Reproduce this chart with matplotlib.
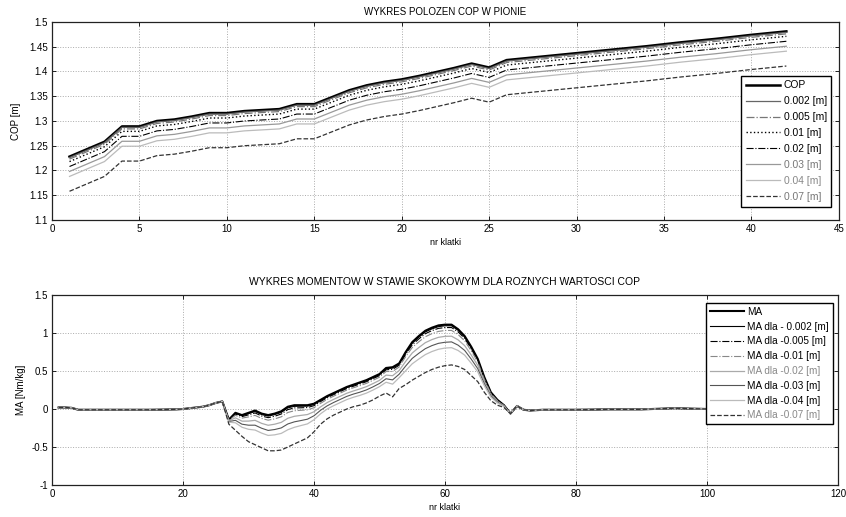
import matplotlib
matplotlib.use("Agg")
import matplotlib.pyplot as plt

plt.rcParams["font.family"] = ["Liberation Sans", "DejaVu Sans"]

# ----------------------------
# TOP: COP position per frame
# ----------------------------
cop_frames = [1, 2, 3, 4, 5, 6, 7, 8, 9, 10, 11, 12, 13, 14, 15, 16, 17,
              18, 19, 20, 21, 22, 23, 24, 25, 26, 28, 30, 32, 34, 36, 38, 40, 42]

cop = [1.228, 1.243, 1.258, 1.289, 1.289, 1.300, 1.303, 1.309, 1.316, 1.316, 1.320, 1.322,
       1.324, 1.334, 1.334, 1.348, 1.362, 1.372, 1.379, 1.384, 1.391, 1.399, 1.407, 1.416,
       1.408, 1.423, 1.430, 1.437, 1.444, 1.451, 1.459, 1.466, 1.474, 1.481]
cop_002 = [1.226, 1.241, 1.256, 1.287, 1.287, 1.298, 1.301, 1.307, 1.314, 1.314, 1.318, 1.320,
           1.322, 1.332, 1.332, 1.346, 1.360, 1.370, 1.377, 1.382, 1.389, 1.397, 1.405, 1.414,
           1.406, 1.421, 1.428, 1.435, 1.442, 1.449, 1.457, 1.464, 1.472, 1.479]
cop_005 = [1.223, 1.238, 1.253, 1.284, 1.284, 1.295, 1.298, 1.304, 1.311, 1.311, 1.315, 1.317,
           1.319, 1.329, 1.329, 1.343, 1.357, 1.367, 1.374, 1.379, 1.386, 1.394, 1.402, 1.411,
           1.403, 1.418, 1.425, 1.432, 1.439, 1.446, 1.454, 1.461, 1.469, 1.476]
cop_01 = [1.218, 1.233, 1.248, 1.279, 1.279, 1.290, 1.293, 1.299, 1.306, 1.306, 1.310, 1.312,
          1.314, 1.324, 1.324, 1.338, 1.352, 1.362, 1.369, 1.374, 1.381, 1.389, 1.397, 1.406,
          1.398, 1.413, 1.420, 1.427, 1.434, 1.441, 1.449, 1.456, 1.464, 1.471]
cop_02 = [1.208, 1.223, 1.238, 1.269, 1.269, 1.280, 1.283, 1.289, 1.296, 1.296, 1.300, 1.302,
          1.304, 1.314, 1.314, 1.328, 1.342, 1.352, 1.359, 1.364, 1.371, 1.379, 1.387, 1.396,
          1.388, 1.403, 1.410, 1.417, 1.424, 1.431, 1.439, 1.446, 1.454, 1.461]
cop_03 = [1.198, 1.213, 1.228, 1.259, 1.259, 1.270, 1.273, 1.279, 1.286, 1.286, 1.290, 1.292,
          1.294, 1.304, 1.304, 1.318, 1.332, 1.342, 1.349, 1.354, 1.361, 1.369, 1.377, 1.386,
          1.378, 1.393, 1.400, 1.407, 1.414, 1.421, 1.429, 1.436, 1.444, 1.451]
cop_04 = [1.188, 1.203, 1.218, 1.249, 1.249, 1.260, 1.263, 1.269, 1.276, 1.276, 1.280, 1.282,
          1.284, 1.294, 1.294, 1.308, 1.322, 1.332, 1.339, 1.344, 1.351, 1.359, 1.367, 1.376,
          1.368, 1.383, 1.390, 1.397, 1.404, 1.411, 1.419, 1.426, 1.434, 1.441]
cop_07 = [1.158, 1.173, 1.188, 1.219, 1.219, 1.230, 1.233, 1.239, 1.246, 1.246, 1.250, 1.252,
          1.254, 1.264, 1.264, 1.278, 1.292, 1.302, 1.309, 1.314, 1.321, 1.329, 1.337, 1.346,
          1.338, 1.353, 1.360, 1.367, 1.374, 1.381, 1.389, 1.396, 1.404, 1.411]

cop_labels = ["COP", "0.002 [m]", "0.005 [m]", "0.01 [m]", "0.02 [m]",
              "0.03 [m]", "0.04 [m]", "0.07 [m]"]

# ----------------------------
# BOTTOM: moment MA per frame
# ----------------------------
lead_frames = [1, 2, 3, 4, 6, 10, 15, 19, 20, 21, 22, 23, 24, 25]
lead_ma = [0.02, 0.02, 0.015, -0.01, -0.01, -0.01, -0.01, -0.005, 0.0, 0.01, 0.02, 0.03, 0.05, 0.08]

active_frames = list(range(26, 73))

ma = [0.10, -0.14, -0.05, -0.08, -0.05, -0.02, -0.06, -0.08, -0.06, -0.03,
      0.03, 0.05, 0.05, 0.05, 0.07, 0.12, 0.17, 0.21, 0.25, 0.29,
      0.32, 0.35, 0.38, 0.42, 0.46, 0.54, 0.55, 0.60, 0.75, 0.88,
      0.96, 1.03, 1.07, 1.10, 1.11, 1.11, 1.05, 0.96, 0.82, 0.66,
      0.42, 0.22, 0.12, 0.05, -0.06, 0.04, -0.01]
ma_002 = [0.10, -0.142, -0.057, -0.088, -0.061, -0.033, -0.073, -0.093, -0.074, -0.045,
          0.015, 0.035, 0.037, 0.038, 0.059, 0.111, 0.161, 0.202, 0.242, 0.282,
          0.312, 0.341, 0.371, 0.411, 0.452, 0.531, 0.539, 0.591, 0.738, 0.866,
          0.945, 1.014, 1.054, 1.084, 1.095, 1.095, 1.036, 0.947, 0.809, 0.651,
          0.414, 0.217, 0.118, 0.049, -0.06, 0.04, -0.01]
ma_005 = [0.10, -0.144, -0.066, -0.100, -0.077, -0.052, -0.092, -0.114, -0.095, -0.066,
          -0.008, 0.014, 0.016, 0.019, 0.044, 0.097, 0.149, 0.189, 0.229, 0.269,
          0.299, 0.329, 0.359, 0.399, 0.439, 0.516, 0.522, 0.576, 0.719, 0.844,
          0.922, 0.991, 1.031, 1.061, 1.071, 1.072, 1.015, 0.929, 0.793, 0.639,
          0.406, 0.212, 0.115, 0.048, -0.06, 0.04, -0.01]
ma_01 = [0.10, -0.149, -0.083, -0.120, -0.104, -0.084, -0.124, -0.147, -0.130, -0.103,
         -0.046, -0.023, -0.017, -0.011, 0.017, 0.074, 0.127, 0.169, 0.209, 0.249,
         0.279, 0.307, 0.337, 0.377, 0.419, 0.493, 0.494, 0.553, 0.689, 0.809,
         0.884, 0.951, 0.991, 1.021, 1.033, 1.034, 0.980, 0.897, 0.766, 0.617,
         0.391, 0.204, 0.110, 0.046, -0.06, 0.04, -0.01]
ma_02 = [0.10, -0.157, -0.116, -0.160, -0.159, -0.149, -0.189, -0.214, -0.200, -0.176,
         -0.122, -0.096, -0.084, -0.073, -0.036, 0.028, 0.084, 0.127, 0.167, 0.207,
         0.237, 0.264, 0.294, 0.334, 0.377, 0.446, 0.438, 0.506, 0.627, 0.737,
         0.808, 0.873, 0.913, 0.943, 0.956, 0.958, 0.910, 0.834, 0.711, 0.574,
         0.363, 0.189, 0.100, 0.041, -0.06, 0.04, -0.01]
ma_03 = [0.10, -0.166, -0.149, -0.200, -0.213, -0.213, -0.253, -0.282, -0.270, -0.249,
         -0.197, -0.169, -0.152, -0.134, -0.089, -0.017, 0.041, 0.086, 0.126, 0.166,
         0.196, 0.221, 0.251, 0.291, 0.336, 0.398, 0.383, 0.458, 0.566, 0.666,
         0.733, 0.794, 0.834, 0.864, 0.878, 0.883, 0.840, 0.771, 0.657, 0.531,
         0.334, 0.173, 0.090, 0.037, -0.06, 0.04, -0.01]
ma_04 = [0.10, -0.174, -0.181, -0.240, -0.267, -0.277, -0.317, -0.348, -0.340, -0.321,
         -0.273, -0.241, -0.218, -0.196, -0.141, -0.063, -0.001, 0.044, 0.084, 0.124,
         0.154, 0.179, 0.209, 0.249, 0.294, 0.352, 0.327, 0.412, 0.504, 0.595,
         0.657, 0.716, 0.756, 0.786, 0.802, 0.807, 0.770, 0.709, 0.603, 0.489,
         0.306, 0.157, 0.080, 0.033, -0.06, 0.04, -0.01]
ma_07 = [0.10, -0.20, -0.28, -0.36, -0.43, -0.47, -0.51, -0.55, -0.55, -0.54,
         -0.50, -0.46, -0.42, -0.38, -0.30, -0.20, -0.13, -0.08, -0.04, 0.00,
         0.03, 0.05, 0.08, 0.12, 0.17, 0.21, 0.16, 0.27, 0.32, 0.38,
         0.43, 0.48, 0.52, 0.55, 0.57, 0.58, 0.56, 0.52, 0.44, 0.36,
         0.22, 0.11, 0.05, 0.02, -0.06, 0.04, -0.01]

tail_frames = [73, 75, 80, 85, 90, 95, 100, 105, 110, 113]
tail_ma = [-0.02, -0.01, -0.01, -0.005, -0.005, 0.01, 0.0, -0.005, -0.005, 0.0]

ma_labels = ["MA", "MA dla - 0.002 [m]", "MA dla -0.005 [m]", "MA dla -0.01 [m]",
             "MA dla -0.02 [m]", "MA dla -0.03 [m]", "MA dla -0.04 [m]", "MA dla -0.07 [m]"]

# ----------------------------
# STYLES (grayscale, matlab-ish)
# ----------------------------
top_styles = [
    dict(color="black", ls="-", lw=1.8),
    dict(color="#666666", ls="-", lw=0.9),
    dict(color="#777777", ls="-.", lw=0.9),
    dict(color="black", ls=":", lw=1.0),
    dict(color="black", ls="-.", lw=0.8),
    dict(color="#999999", ls="-", lw=0.9),
    dict(color="#bbbbbb", ls="-", lw=0.9),
    dict(color="#333333", ls="--", lw=0.9),
]
bot_styles = [
    dict(color="black", ls="-", lw=1.5),
    dict(color="black", ls="-", lw=0.8),
    dict(color="black", ls="-.", lw=0.8),
    dict(color="#888888", ls="-.", lw=0.8),
    dict(color="#aaaaaa", ls="-", lw=0.9),
    dict(color="#555555", ls="-", lw=0.8),
    dict(color="#bbbbbb", ls="-", lw=0.9),
    dict(color="#333333", ls="--", lw=0.9),
]
legend_text_colors = ["black", "black", "black", "black", "black", "#777777", "#888888", "#777777"]
legend_text_colors_bot = ["black", "black", "black", "black", "#888888", "black", "black", "#888888"]


def style_axes(ax):
    ax.tick_params(direction="in", top=True, right=True, labelsize=7, length=3, width=0.6, pad=3)
    ax.grid(True, linestyle=":", color="#aaaaaa", linewidth=0.7)
    for s in ax.spines.values():
        s.set_linewidth(0.9)
        s.set_color("#222222")


fig = plt.figure(figsize=(8.46, 5.17), dpi=100)

# top chart
ax1 = fig.add_axes([0.0615, 0.5745, 0.930, 0.383])
top_series = [cop, cop_002, cop_005, cop_01, cop_02, cop_03, cop_04, cop_07]
for vals, lab, st in zip(top_series, cop_labels, top_styles):
    ax1.plot(cop_frames, vals, label=lab, **st)

ax1.set_xlim(0, 45)
ax1.set_ylim(1.1, 1.5)
ax1.set_xticks(range(0, 46, 5))
ax1.set_yticks([1.1, 1.15, 1.2, 1.25, 1.3, 1.35, 1.4, 1.45, 1.5])
ax1.set_yticklabels(["1.1", "1.15", "1.2", "1.25", "1.3", "1.35", "1.4", "1.45", "1.5"])
style_axes(ax1)
ax1.set_title("WYKRES POLOZEN COP W PIONIE", fontsize=7, pad=5)
ax1.set_xlabel("nr klatki", fontsize=6.5, labelpad=3)
ax1.set_ylabel("COP [m]", fontsize=7, labelpad=6)

leg1 = ax1.legend(loc="lower right", bbox_to_anchor=(0.997, 0.042), fontsize=7.4,
                  handlelength=3.4, labelspacing=0.58, borderpad=0.45, handletextpad=0.3,
                  fancybox=False, framealpha=1, edgecolor="black")
leg1.get_frame().set_linewidth(1.0)
for t, c in zip(leg1.get_texts(), legend_text_colors):
    t.set_color(c)

# bottom chart
ax2 = fig.add_axes([0.0615, 0.0619, 0.929, 0.3675])
bot_series = [ma, ma_002, ma_005, ma_01, ma_02, ma_03, ma_04, ma_07]
for vals, lab, st in zip(bot_series, ma_labels, bot_styles):
    xs = lead_frames + active_frames + tail_frames
    ys = lead_ma + vals + tail_ma
    ax2.plot(xs, ys, label=lab, **st)

ax2.set_xlim(0, 120)
ax2.set_ylim(-1, 1.5)
ax2.set_xticks(range(0, 121, 20))
ax2.set_yticks([-1, -0.5, 0, 0.5, 1, 1.5])
ax2.set_yticklabels(["-1", "-0.5", "0", "0.5", "1", "1.5"])
style_axes(ax2)
ax2.set_title("WYKRES MOMENTOW W STAWIE SKOKOWYM DLA ROZNYCH WARTOSCI COP", fontsize=7.5, pad=7)
ax2.set_xlabel("nr klatki", fontsize=6.5, labelpad=3)
ax2.set_ylabel("MA [Nm/kg]", fontsize=7, labelpad=4)

leg2 = ax2.legend(loc="upper right", bbox_to_anchor=(1.0, 0.985), fontsize=7.2,
                  handlelength=3.4, labelspacing=0.48, borderpad=0.4, handletextpad=0.3,
                  fancybox=False, framealpha=1, edgecolor="black")
leg2.get_frame().set_linewidth(1.0)
for t, c in zip(leg2.get_texts(), legend_text_colors_bot):
    t.set_color(c)

fig.savefig("out.png", dpi=100)
plt.close(fig)
